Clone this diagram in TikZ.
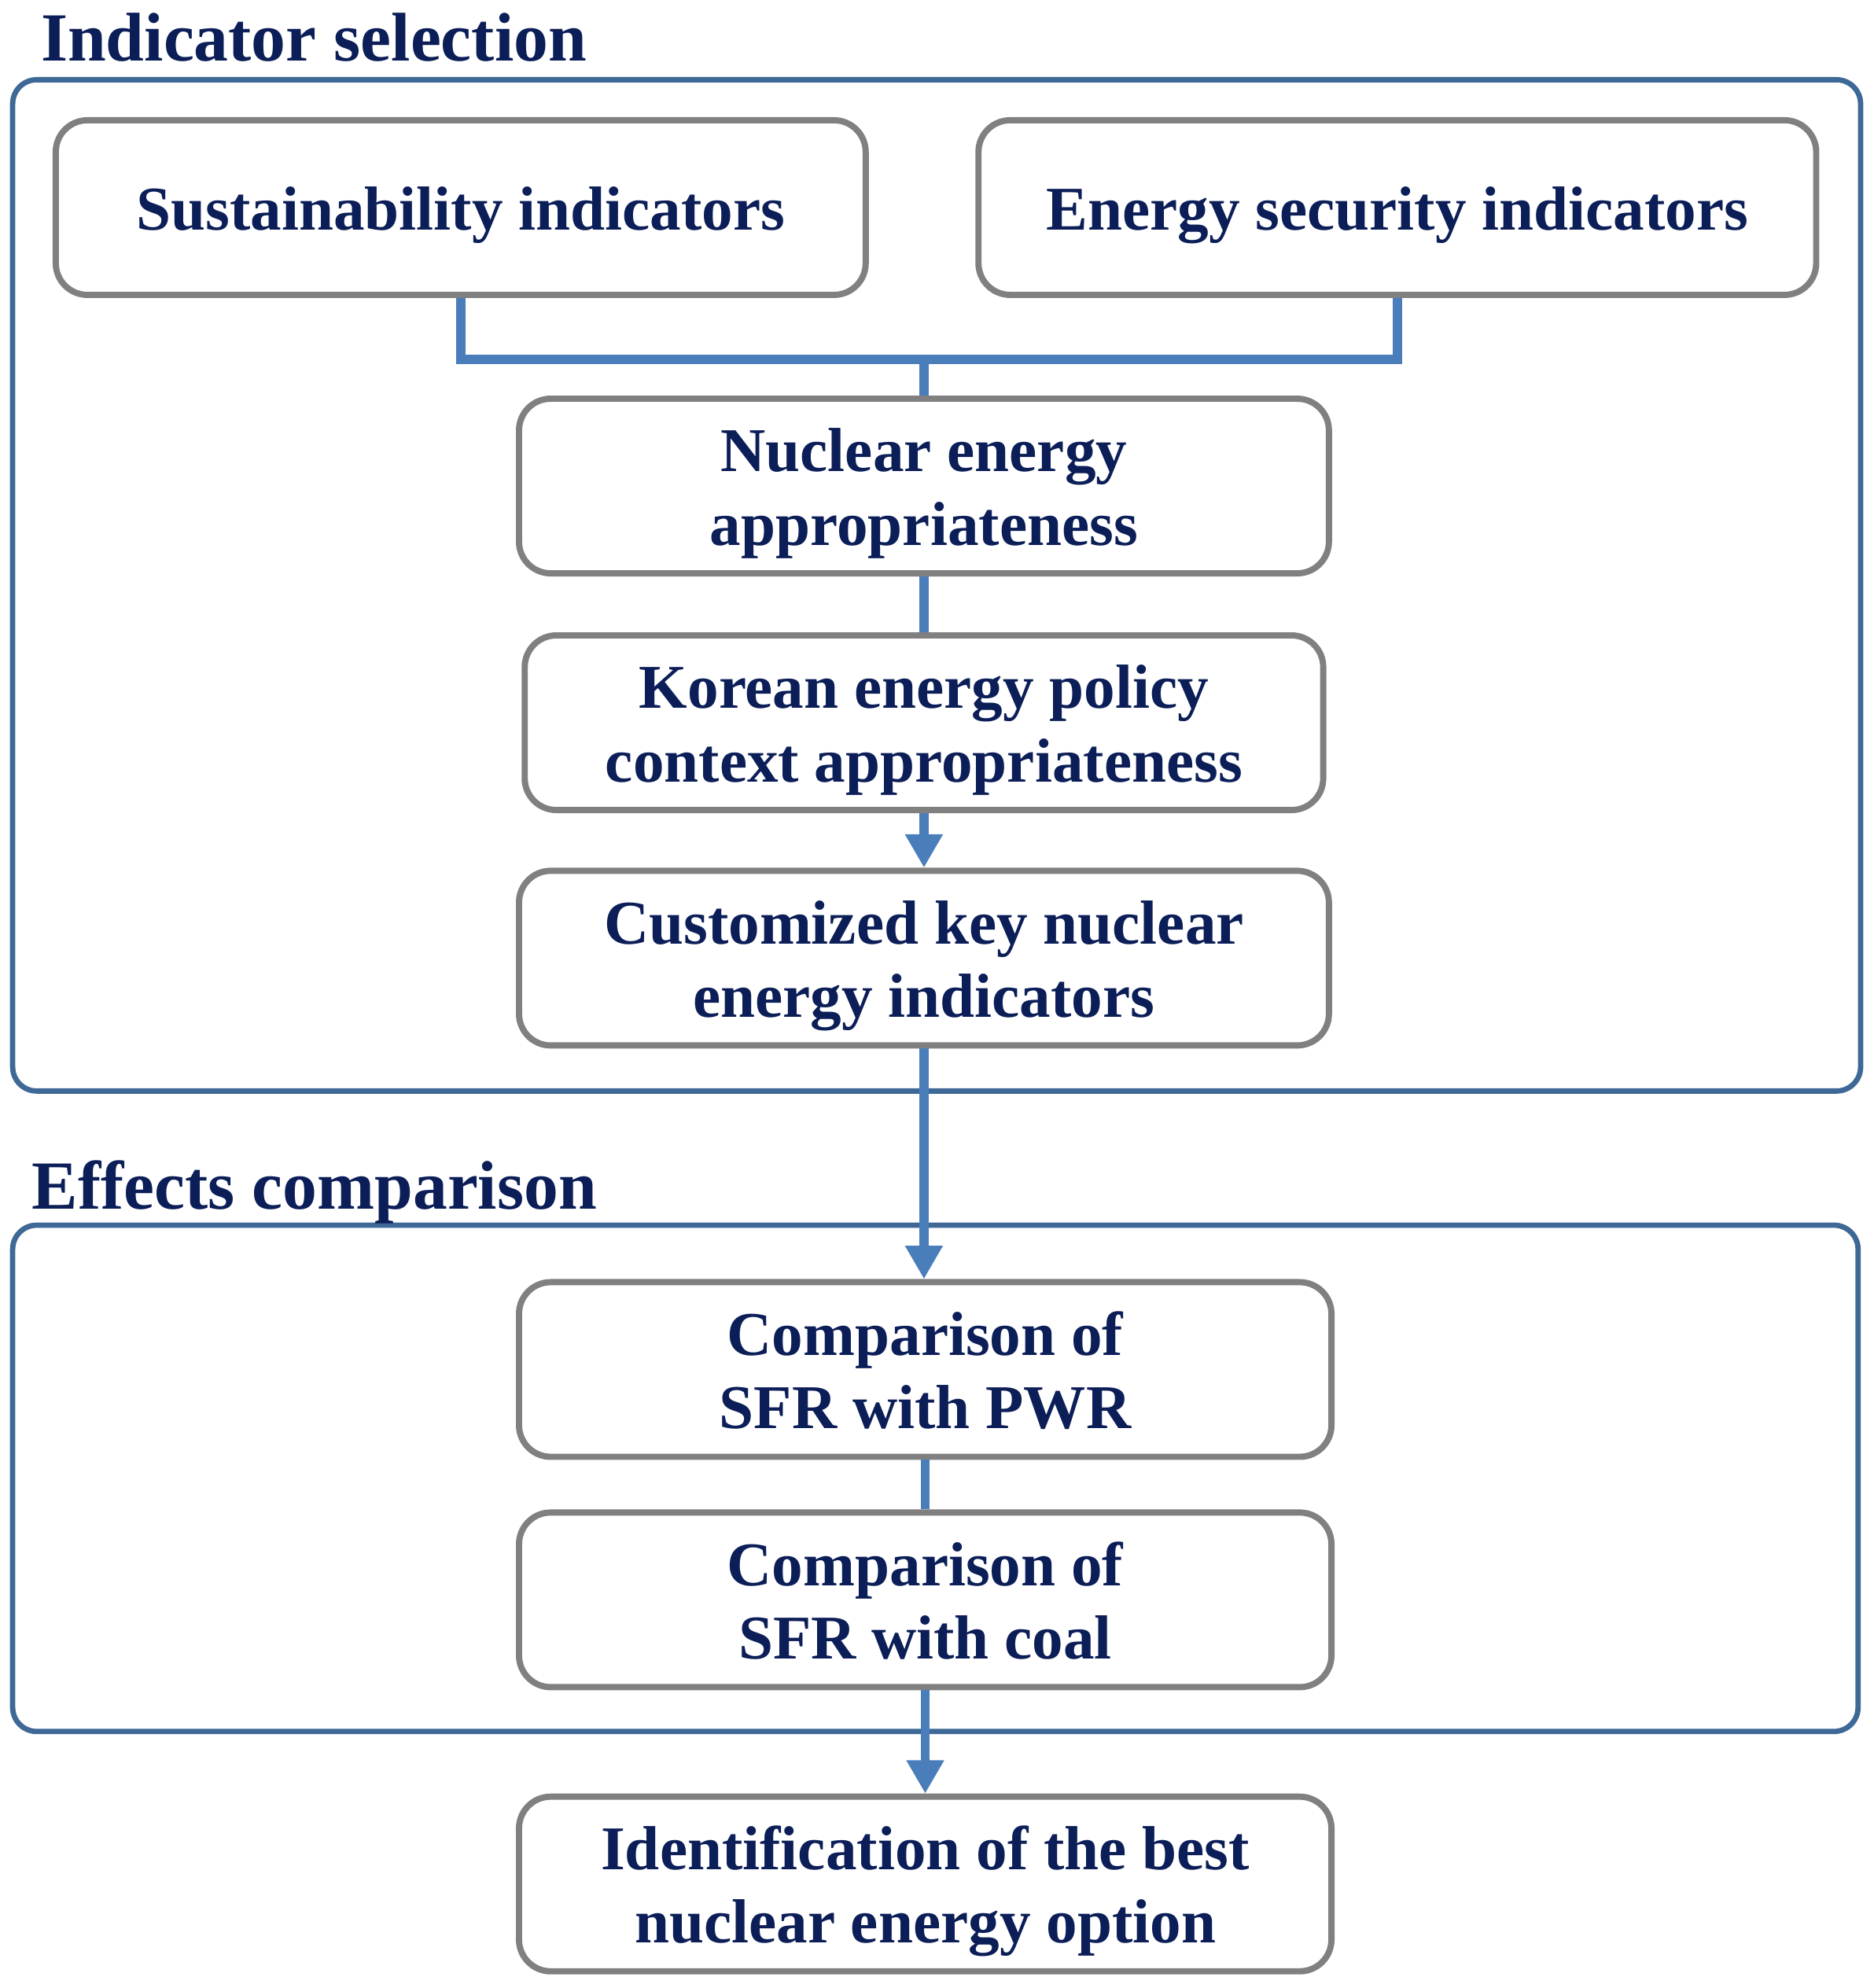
\documentclass[tikz,border=0pt]{standalone}
\usepackage{fontspec}
\setmainfont{Liberation Serif}
\usetikzlibrary{arrows.meta, positioning}
\definecolor{navytext}{RGB}{12,30,88}
\definecolor{linkblue}{RGB}{74,126,187}
\definecolor{frameblue}{RGB}{62,104,150}
\definecolor{boxgray}{RGB}{128,128,128}

\begin{document}
\begin{tikzpicture}[x=0.02cm, y=0.02cm, >={Triangle[width=16pt,length=15pt]},
    stagebox/.style={draw=boxgray, line width=2.8pt, rounded corners=0.5cm, fill=white,
        minimum width=12.8cm, minimum height=2.76cm, align=center, text=navytext,
        text height=53.2pt, text depth=0pt,
        font=\fontsize{28}{33}\selectfont\bfseries},
    oneline/.style={text height=20.4pt, text depth=0pt},
    frame/.style={draw=frameblue, line width=2.4pt, rounded corners=0.38cm},
    heading/.style={anchor=base west, inner sep=0pt, text=navytext,
        font=\fontsize{31}{36}\selectfont\bfseries},
    link/.style={draw=linkblue, line width=4pt}]
    \useasboundingbox (0,0) rectangle (1480,-1570.7);

    % Frames and headings
    \draw[frame] (10,-63) rectangle (1470,-862);
    \draw[frame] (10,-968) rectangle (1468,-1368);
    \node[heading] (selhead) at (32,-48) {Indicator selection};
    \node[heading] (effhead) at (25,-955) {Effects comparison};

    % Indicator selection
    \node[stagebox, oneline, minimum width=12.8cm] (sust) at (364,-164) {Sustainability indicators};
    \node[stagebox, oneline, minimum width=13.24cm] (energy) at (1104,-164) {Energy security indicators};
    \node[stagebox] (nuclear) at (730,-384) {Nuclear energy\\appropriateness};
    \node[stagebox, minimum width=12.62cm] (korean) at (730,-571) {Korean energy policy\\context appropriateness};
    \node[stagebox] (custom) at (730,-757) {Customized key nuclear\\energy indicators};

    % Effects comparison
    \node[stagebox, minimum width=12.84cm] (pwr) at (731,-1082) {Comparison of\\SFR with PWR};
    \node[stagebox, minimum width=12.84cm] (coal) at (731,-1264) {Comparison of\\SFR with coal};
    \node[stagebox, minimum width=12.84cm] (best) at (731,-1488.5) {Identification of the best\\nuclear energy option};

    % Connectors
    \coordinate (join) at (730,-284);
    \draw[link] (sust.south) |- (join) -| (energy.south);
    \draw[link] (join) -- (nuclear.north);
    \draw[link] (nuclear) -- (korean);
    \draw[link, ->] (korean) -- (custom);
    \draw[link, ->] (custom.south) -- (custom.south |- pwr.north);
    \draw[link] (pwr) -- (coal);
    \draw[link, ->] (coal.south) -- (coal.south |- best.north);
\end{tikzpicture}
\end{document}
